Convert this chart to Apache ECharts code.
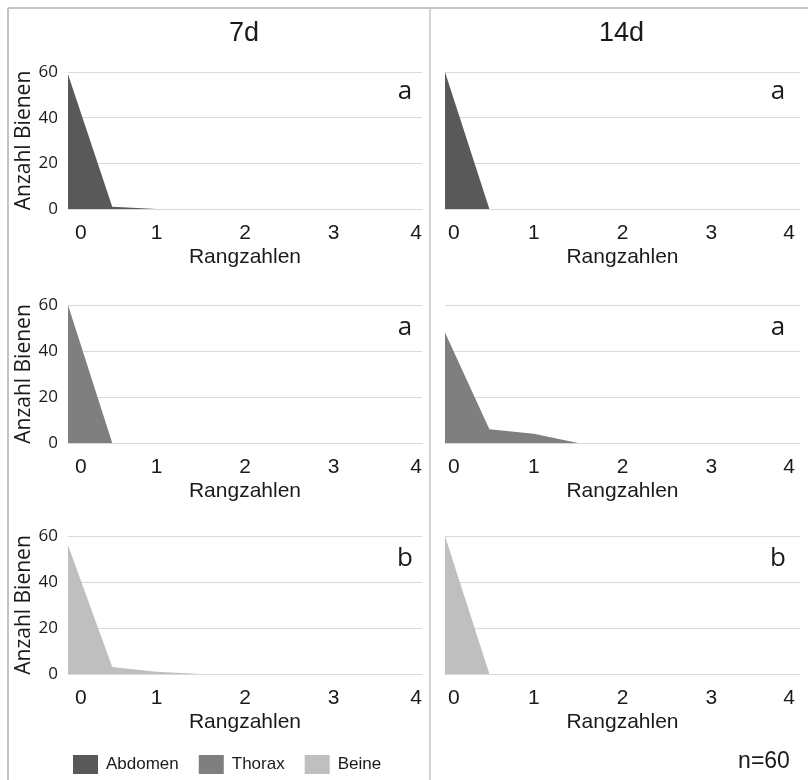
<!DOCTYPE html>
<html>
<head>
<meta charset="utf-8">
<style>
  html, body { margin: 0; padding: 0; background: #fff; }
  #chart { width: 808px; height: 780px; }
</style>
<script src="https://cdn.jsdelivr.net/npm/echarts@6/dist/echarts.min.js"></script>
</head>
<body>
<div id="chart"></div>
<script>
// Rank positions along the x axis (half steps between the integer ranks)
const ranks = [0, 0.5, 1, 1.5, 2, 2.5, 3, 3.5, 4];
const xTicks = [0, 1, 2, 3, 4];
const yTicks = [0, 20, 40, 60];

// Number of bees per rank, by body part and exposure time
const abdomen7d  = [59, 1, 0, 0, 0, 0, 0, 0, 0];
const abdomen14d = [60, 0, 0, 0, 0, 0, 0, 0, 0];
const thorax7d   = [60, 0, 0, 0, 0, 0, 0, 0, 0];
const thorax14d  = [48, 6, 4, 0, 0, 0, 0, 0, 0];
const beine7d    = [56, 3, 1, 0, 0, 0, 0, 0, 0];
const beine14d   = [60, 0, 0, 0, 0, 0, 0, 0, 0];

const periods = ['7d', '14d'];
const parts = ['Abdomen', 'Thorax', 'Beine'];
const partColors = ['#595959', '#7f7f7f', '#bfbfbf'];
const sigLetters = [['a', 'a'], ['a', 'a'], ['b', 'b']];
const sampleSize = 'n=60';

const panelValues = [
  [abdomen7d, abdomen14d],
  [thorax7d, thorax14d],
  [beine7d, beine14d]
];

// Panel layout (pixels)
const colLeft = [68, 445];
const colWidth = [354, 355];
const rowTop = [72, 305, 536];
const rowHeight = [137, 138, 138];
// inset of the outermost tick labels from the plot edges, per column
const edgeInsetMin = [7, 3];
const edgeInsetMax = [0, 5];

const sans = "'Liberation Sans', Arial, sans-serif";
const openSans = "'Open Sans', sans-serif";
const ink = '#1a1a1a';
const gridColor = '#d9d9d9';

const grids = [], xAxes = [], yAxes = [], series = [], graphics = [];

parts.forEach((part, r) => {
  periods.forEach((period, c) => {
    const idx = grids.length;
    const xMin = xTicks[0], xMax = xTicks[xTicks.length - 1];
    grids.push({
      left: colLeft[c], top: rowTop[r], width: colWidth[c], height: rowHeight[r],
      containLabel: false
    });
    xAxes.push({
      gridIndex: idx, type: 'value',
      min: xMin, max: xMax, interval: 1,
      name: 'Rangzahlen', nameLocation: 'middle', nameGap: 38,
      nameTextStyle: { fontFamily: sans, fontSize: 21, color: ink },
      axisLine: { show: true, lineStyle: { color: gridColor, width: 1 } },
      axisTick: { show: false },
      splitLine: { show: false },
      axisLabel: {
        fontFamily: sans, fontSize: 21, color: ink, margin: 14,
        alignMinLabel: 'left', alignMaxLabel: 'right',
        formatter: v => v === xMin ? '{lo|' + v + '}' : v === xMax ? '{hi|' + v + '}' : String(v),
        rich: {
          lo: { fontFamily: sans, fontSize: 21, color: ink, padding: [0, 0, 0, edgeInsetMin[c]] },
          hi: { fontFamily: sans, fontSize: 21, color: ink, padding: [0, edgeInsetMax[c], 0, 0] }
        }
      }
    });
    yAxes.push({
      gridIndex: idx, type: 'value',
      min: yTicks[0], max: yTicks[yTicks.length - 1], interval: 20,
      name: c === 0 ? 'Anzahl Bienen' : '',
      nameLocation: 'middle', nameGap: 33,
      nameTextStyle: { fontFamily: openSans, fontSize: 21, color: ink },
      axisLine: { show: false },
      axisTick: { show: false },
      splitLine: { show: true, lineStyle: { color: gridColor, width: 1 } },
      axisLabel: {
        show: c === 0, fontFamily: openSans, fontSize: 17, color: ink, margin: 10
      }
    });
    series.push({
      name: part, type: 'line',
      xAxisIndex: idx, yAxisIndex: idx,
      data: ranks.map((x, i) => [x, panelValues[r][c][i]]),
      showSymbol: false, symbol: 'none',
      lineStyle: { width: 0, color: partColors[r] },
      itemStyle: { color: partColors[r] },
      areaStyle: { color: partColors[r], opacity: 1 },
      silent: true, animation: false
    });
    // significance letter in the upper right corner of each panel
    graphics.push({
      type: 'text',
      x: colLeft[c] + colWidth[c] - (c === 0 ? 17 : 22),
      y: rowTop[r] + (r === 0 ? 20 : 23),
      style: {
        text: sigLetters[r][c], fontFamily: openSans, fontSize: 26, fill: ink,
        textAlign: 'center', textVerticalAlign: 'middle'
      }
    });
  });
});

// column headings
periods.forEach((p, c) => {
  graphics.push({
    type: 'text',
    x: colLeft[c] + colWidth[c] / 2 - 1, y: 34,
    style: {
      text: p, fontFamily: sans, fontSize: 27, fill: ink,
      textAlign: 'center', textVerticalAlign: 'middle'
    }
  });
});

// frame and column divider
const frame = { stroke: '#c4c4c4', lineWidth: 2 };
graphics.push(
  { type: 'line', shape: { x1: 8, y1: 8, x2: 808, y2: 8 }, style: frame },
  { type: 'line', shape: { x1: 8, y1: 8, x2: 8, y2: 780 }, style: frame },
  { type: 'line', shape: { x1: 430, y1: 8, x2: 430, y2: 780 }, style: { stroke: '#c4c4c4', lineWidth: 1.5 } }
);

// sample size note
graphics.push({
  type: 'text', x: 764, y: 762,
  style: {
    text: sampleSize, fontFamily: sans, fontSize: 23, fill: ink,
    textAlign: 'center', textVerticalAlign: 'middle'
  }
});

const chart = echarts.init(document.getElementById('chart'), null, { renderer: 'canvas' });
chart.setOption({
  backgroundColor: '#fff',
  animation: false,
  grid: grids,
  xAxis: xAxes,
  yAxis: yAxes,
  series: series,
  legend: {
    data: parts,
    left: 73, top: 755, padding: 0,
    icon: 'rect', itemWidth: 25, itemHeight: 19, itemGap: 20,
    selectedMode: false,
    textStyle: { fontFamily: sans, fontSize: 17, color: ink, padding: [0, 0, 0, 3] }
  },
  graphic: graphics
});
</script>
</body>
</html>
